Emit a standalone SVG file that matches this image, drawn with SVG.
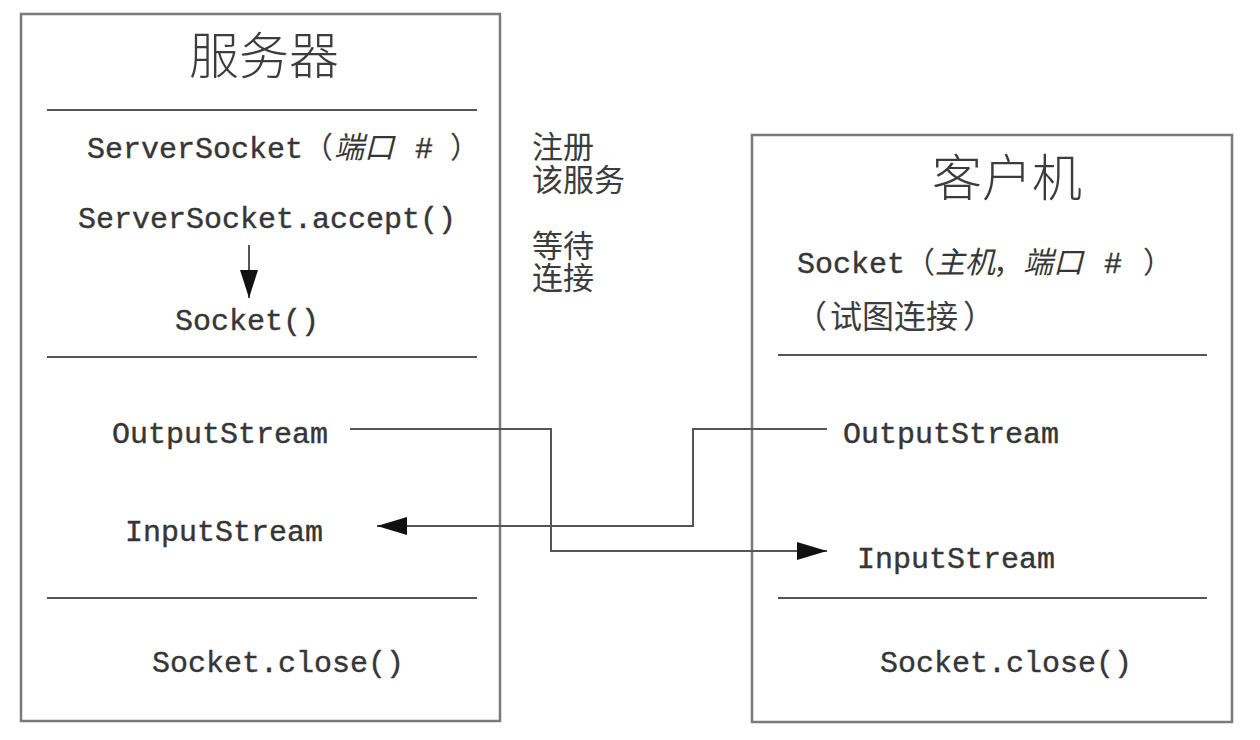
<svg xmlns="http://www.w3.org/2000/svg" width="1260" height="740" viewBox="0 0 1260 740">
<style>
.box{fill:#fff;stroke:#7a7a7a;stroke-width:2.5}
.div{stroke:#555;stroke-width:2}
.conn{fill:none;stroke:#555;stroke-width:2}
.mono{font-family:"Liberation Mono","DejaVu Sans Mono",monospace;font-size:30px;fill:#363636;stroke:#363636;stroke-width:0.4}
.cjk{font-family:"Noto Sans CJK SC","Noto Sans",sans-serif;fill:#3c3c3c}
.title{font-size:50px;font-weight:300}
.mid{font-size:31px}
.it{font-family:"Noto Sans CJK SC",sans-serif;font-style:italic;stroke:none}
</style>
<defs>
<marker id="ah" markerUnits="userSpaceOnUse" markerWidth="30" markerHeight="18" refX="30" refY="9" orient="auto">
<path d="M0,0 L30,9 L0,18 z" fill="#111"/>
</marker>
<marker id="ahs" markerUnits="userSpaceOnUse" markerWidth="28" markerHeight="18" refX="28" refY="9" orient="auto">
<path d="M0,0 L28,9 L0,18 z" fill="#111"/>
</marker>
</defs>
<rect width="1260" height="740" fill="#fff"/>

<g id="server">
<rect class="box" x="21" y="14" width="479" height="707"/>
<text class="cjk title" x="189" y="74">服务器</text>
<line class="div" x1="47" y1="110" x2="477" y2="110"/>
<text class="mono" x="87" y="158">ServerSocket<tspan class="cjk" x="303" stroke="none">（</tspan><tspan class="it" x="334">端口</tspan><tspan x="415">#</tspan><tspan class="cjk" x="450" stroke="none">）</tspan></text>
<text class="mono" x="78" y="228">ServerSocket.accept()</text>
<line class="conn" x1="249" y1="245" x2="249" y2="298" marker-end="url(#ahs)"/>
<text class="mono" x="175" y="330">Socket()</text>
<line class="div" x1="47" y1="357" x2="477" y2="357"/>
<text class="mono" x="112" y="443">OutputStream</text>
<text class="mono" x="125" y="541">InputStream</text>
<line class="div" x1="47" y1="598" x2="477" y2="598"/>
<text class="mono" x="152" y="672">Socket.close()</text>
</g>

<g id="notes">
<text class="cjk mid" x="532" y="158">注册<tspan x="532" dy="33">该服务</tspan></text>
<text class="cjk mid" x="532" y="257">等待<tspan x="532" dy="32">连接</tspan></text>
</g>

<g id="client">
<rect class="box" x="752" y="135" width="480" height="587"/>
<text class="cjk title" x="932" y="196">客户机</text>
<text class="mono" x="797" y="273">Socket<tspan class="cjk" x="905" stroke="none">（</tspan><tspan class="it" x="935">主机</tspan><tspan class="cjk" x="993" stroke="none">，</tspan><tspan class="it" x="1023">端口</tspan><tspan x="1104">#</tspan><tspan class="cjk" x="1143" stroke="none">）</tspan></text>
<text class="cjk" font-size="32" x="795" y="328">（<tspan x="830">试图连接</tspan><tspan x="963">）</tspan></text>
<line class="div" x1="778" y1="355" x2="1207" y2="355"/>
<text class="mono" x="843" y="443">OutputStream</text>
<text class="mono" x="857" y="568">InputStream</text>
<line class="div" x1="778" y1="598" x2="1207" y2="598"/>
<text class="mono" x="880" y="672">Socket.close()</text>
</g>

<g id="connectors">
<polyline class="conn" points="350,429 551,429 551,551 827,551" marker-end="url(#ah)"/>
<polyline class="conn" points="827,429 693,429 693,526 377,526" marker-end="url(#ah)"/>
</g>
</svg>
